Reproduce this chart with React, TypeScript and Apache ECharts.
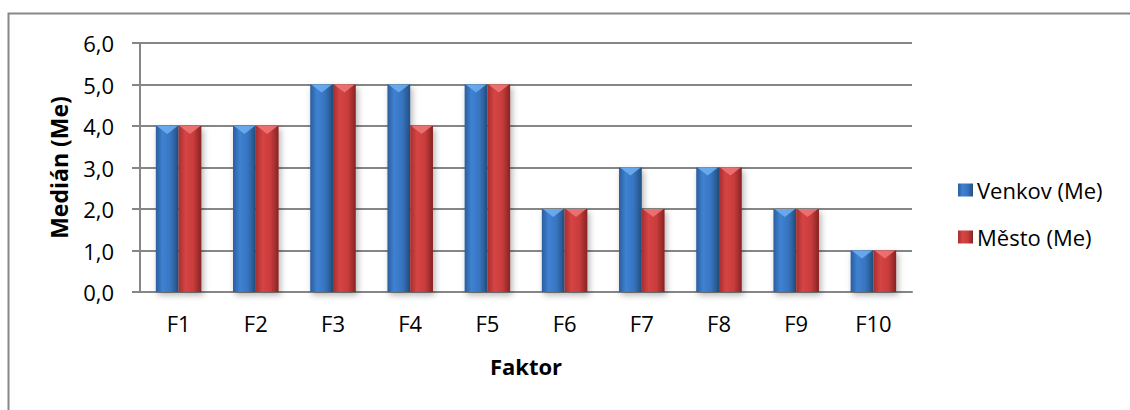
import React, { useEffect, useRef } from "react";
import * as echarts from "echarts";

const categories = ["F1", "F2", "F3", "F4", "F5", "F6", "F7", "F8", "F9", "F10"];
const venkov = [4, 4, 5, 5, 5, 2, 3, 3, 2, 1];
const mesto = [4, 4, 5, 4, 5, 2, 2, 3, 2, 1];
const seriesNames = ["Venkov (Me)", "Město (Me)"];

const FONT = "'Open Sans', 'Noto Sans', sans-serif";
const CAT_GAP = 0.41;

const blueFill = new echarts.graphic.LinearGradient(0, 0, 1, 0, [
  { offset: 0, color: "#2b5c9e" },
  { offset: 0.3, color: "#3f82d2" },
  { offset: 0.65, color: "#3774c0" },
  { offset: 1, color: "#23507f" },
]);
const redFill = new echarts.graphic.LinearGradient(0, 0, 1, 0, [
  { offset: 0, color: "#a62e2e" },
  { offset: 0.3, color: "#d64444" },
  { offset: 0.65, color: "#c93c3c" },
  { offset: 1, color: "#862323" },
]);
const bevelColors = ["#6fb0f2", "#f07878"];

// light bevel triangle on top of each bar, positioned on the same band as the bars
function bevel(seriesIdx: number) {
  return (params: any, api: any) => {
    const cat = api.value(0);
    const v = api.value(1);
    const top = api.coord([cat, v]);
    const band = api.size([1, 0])[0];
    const bw = (band * (1 - CAT_GAP)) / 2;
    const x0 = top[0] - bw + seriesIdx * bw;
    const x1 = x0 + bw;
    return {
      type: "polygon",
      shape: {
        points: [
          [x0 + 1, top[1]],
          [x1 - 1, top[1]],
          [(x0 + x1) / 2, top[1] + 8],
        ],
      },
      style: { fill: bevelColors[seriesIdx], opacity: 0.85 },
    };
  };
}

export default function App() {
  const ref = useRef<HTMLDivElement>(null);

  useEffect(() => {
    if (!ref.current) return;
    const chart = echarts.init(ref.current, null, { renderer: "svg" });
    const shadow = {
      shadowBlur: 6,
      shadowOffsetX: 2,
      shadowOffsetY: 3,
      shadowColor: "rgba(0,0,0,0.3)",
    };
    chart.setOption({
      animation: false,
      backgroundColor: "#ffffff",
      textStyle: { fontFamily: FONT },
      graphic: [
        {
          type: "rect",
          shape: { x: 8.5, y: 13.5, width: 1140, height: 420 },
          style: { fill: "none", stroke: "#878787", lineWidth: 2 },
          z: -1,
        },
      ],
      grid: { left: 140, right: 218, top: 43, bottom: 118 },
      legend: {
        data: seriesNames,
        orient: "vertical",
        left: 953,
        top: 174,
        itemWidth: 15,
        itemHeight: 13,
        itemGap: 25,
        icon: "rect",
        textStyle: { fontSize: 22, color: "#000", fontFamily: FONT, padding: [0, 0, 0, -1] },
      },
      xAxis: {
        type: "category",
        data: categories,
        name: "Faktor",
        nameLocation: "middle",
        nameGap: 63,
        nameTextStyle: { fontSize: 22, fontWeight: "bold", color: "#000", fontFamily: FONT },
        axisLine: { lineStyle: { color: "#868686", width: 2 } },
        axisTick: { show: false },
        axisLabel: { fontSize: 22, color: "#000", margin: 20 },
      },
      yAxis: {
        type: "value",
        min: 0,
        max: 6,
        interval: 1,
        name: "Medián (Me)",
        nameLocation: "middle",
        nameGap: 70,
        nameTextStyle: { fontSize: 23, fontWeight: "bold", color: "#000", fontFamily: FONT },
        axisLine: { show: true, lineStyle: { color: "#868686", width: 2 } },
        axisTick: { show: true, inside: false, length: 8, lineStyle: { color: "#868686", width: 2 } },
        axisLabel: {
          fontSize: 22,
          color: "#000",
          margin: 26,
          formatter: (v: number) => v.toFixed(1).replace(".", ","),
        },
        splitLine: { lineStyle: { color: "#868686", width: 2 } },
      },
      series: [
        {
          name: seriesNames[0],
          type: "bar",
          data: venkov,
          barGap: "0%",
          barCategoryGap: "41%",
          itemStyle: { color: blueFill, ...shadow },
        },
        {
          name: seriesNames[1],
          type: "bar",
          data: mesto,
          barGap: "0%",
          barCategoryGap: "41%",
          itemStyle: { color: redFill, ...shadow },
        },
        {
          type: "custom",
          renderItem: bevel(0),
          data: venkov.map((v, i) => [i, v]),
          encode: { x: 0, y: 1 },
          z: 5,
          silent: true,
        },
        {
          type: "custom",
          renderItem: bevel(1),
          data: mesto.map((v, i) => [i, v]),
          encode: { x: 0, y: 1 },
          z: 5,
          silent: true,
        },
      ],
    });
    return () => chart.dispose();
  }, []);

  return (
    <div
      ref={ref}
      style={{ position: "absolute", left: 0, top: 0, width: 1130, height: 410 }}
    />
  );
}
